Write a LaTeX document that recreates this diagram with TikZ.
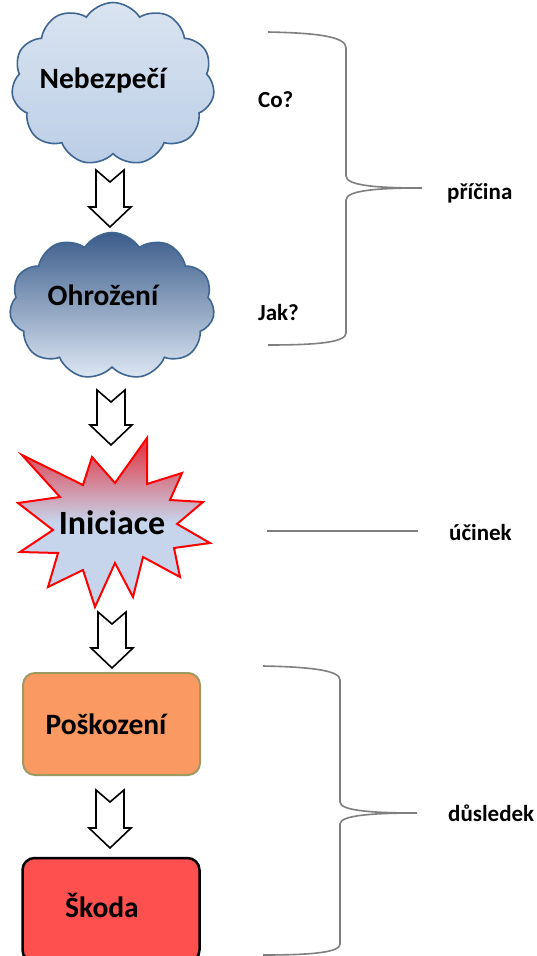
\documentclass[tikz,border=0pt]{standalone}
\usepackage{fontspec}
\setmainfont{Carlito}
\usetikzlibrary{shapes.symbols,calc}
\definecolor{cloudline}{HTML}{3F6591}
\definecolor{cloudAtop}{HTML}{DAE4F1}
\definecolor{cloudAbot}{HTML}{BBCEE6}
\definecolor{cloudBtop}{HTML}{3B5C8A}
\definecolor{cloudBbot}{HTML}{DEE8F4}
\definecolor{startop}{HTML}{E0404E}
\definecolor{starbot}{HTML}{C6D5EC}
\definecolor{orangefill}{HTML}{FA9A62}
\definecolor{orangeline}{HTML}{9C9A60}
\definecolor{redfill}{HTML}{FF5050}
\definecolor{bracegray}{HTML}{7F7F7F}
\pgfdeclareverticalshading{starshade}{100bp}{color(0bp)=(starbot); color(25bp)=(starbot); color(50bp)=(starbot); color(72bp)=(startop); color(75bp)=(startop); color(100bp)=(startop)}
\tikzset{
  cloudnode/.style={cloud, cloud puffs=11, cloud puff arc=115, aspect=1.3, draw=cloudline, line width=1.6pt, inner sep=0pt},
  lbl/.style={font=\bfseries\fontsize{29.5}{34}\selectfont, text=black, inner sep=0pt},
  sidelbl/.style={font=\bfseries\fontsize{23}{27}\selectfont, text=black, inner sep=0pt, anchor=west},
  boxnode/.style={rounded corners=12pt, line width=2pt, minimum width=177pt, inner sep=0pt, font=\bfseries\fontsize{29.5}{34}\selectfont},
  barrow/.style={draw=black, fill=white, line width=1.6pt, line join=miter},
  bracepath/.style={draw=bracegray, line width=1.6pt}
}
\newcommand{\blkarrow}[2]{%
  \path[barrow] let \p1=(#1), \p2=(#2) in
    (\x1-14pt,\y1) -- (\x1,\y1-12pt) -- (\x1+14pt,\y1) -- (\x1+14pt,\y2+20pt)
    -- (\x1+21pt,\y2+20pt) -- (\x1,\y2) -- (\x1-21pt,\y2+20pt) -- (\x1-14pt,\y2+20pt) -- cycle;}
\begin{document}
\begin{tikzpicture}[x=1pt,y=-1pt]
\useasboundingbox (0,0) rectangle (536,956);
\begin{scope}
\clip (0,0) rectangle (536,956);
% clouds
\node[cloudnode, minimum width=203pt, minimum height=163pt, top color=cloudAtop, bottom color=cloudAbot] (c1) at (113,84) {};
\node[lbl] (t1) at (103,80) {Nebezpečí};
\node[cloudnode, minimum width=205pt, minimum height=147pt, top color=cloudBtop, bottom color=cloudBbot] (c2) at (112,306) {};
\node[lbl] (t2) at (103,295) {Ohrožení};
% starburst
\coordinate (st) at (112,523);
\path[draw=red, line width=2pt, shading=starshade, line join=miter]
  (22,455) -- (83,485) -- (92,457) -- (115,483) -- (147,438) -- (147,484) -- (182,473)
  -- (170,500) -- (203,502) -- (177,524) -- (210,543) -- (174,548) -- (180,577)
  -- (143,557) -- (133,597) -- (115,563) -- (95,607) -- (83,570) -- (48,587)
  -- (58,553) -- (20,552) -- (53,530) -- (18,503) -- (60,497) -- cycle;
\node[lbl, font=\bfseries\fontsize{34}{40}\selectfont] (ini) at (st) {Iniciace};
% boxes
\node[boxnode, draw=orangeline, fill=orangefill, minimum height=102pt] (pos) at (111.5,724) {\kern-11pt Poškození};
\node[boxnode, draw=black, line width=2.5pt, fill=redfill, minimum height=104pt] (sko) at (111,910) {};
\node[lbl] (skot) at (102,905) {Škoda};
% arrows
\coordinate (a1t) at (110,170); \coordinate (a1b) at (110,227);
\coordinate (a2t) at (111,390); \coordinate (a2b) at (111,445);
\coordinate (a3t) at (112,612); \coordinate (a3b) at (112,668);
\coordinate (a4t) at (110,790); \coordinate (a4b) at (110,848);
\blkarrow{a1t}{a1b}
\blkarrow{a2t}{a2b}
\blkarrow{a3t}{a3b}
\blkarrow{a4t}{a4b}
% braces
\path[bracepath] (268,32) .. controls (320,33) and (346,37) .. (346,48) -- (346,176)
  .. controls (346,186) and (380,188) .. (422,188)
  .. controls (380,188) and (346,190) .. (346,200) -- (346,333)
  .. controls (346,342) and (320,345) .. (268,345);
\path[bracepath] (263,666) .. controls (315,667) and (340,671) .. (340,680) -- (340,802)
  .. controls (340,811) and (375,813) .. (417,813)
  .. controls (375,813) and (340,815) .. (340,824) -- (340,944)
  .. controls (340,952) and (315,955) .. (263,955);
\coordinate (l1a) at (267,531); \coordinate (l1b) at (418,531);
\draw[bracepath] (l1a) -- (l1b);
\end{scope}
% side labels
\node[sidelbl] (co) at (258,100) {Co?};
\node[sidelbl] (jak) at (258,313) {Jak?};
\node[sidelbl] (pri) at (447,193) {příčina};
\node[sidelbl] (uci) at (449,533) {účinek};
\node[sidelbl] (dus) at (448,813) {důsledek};
\end{tikzpicture}
\end{document}
